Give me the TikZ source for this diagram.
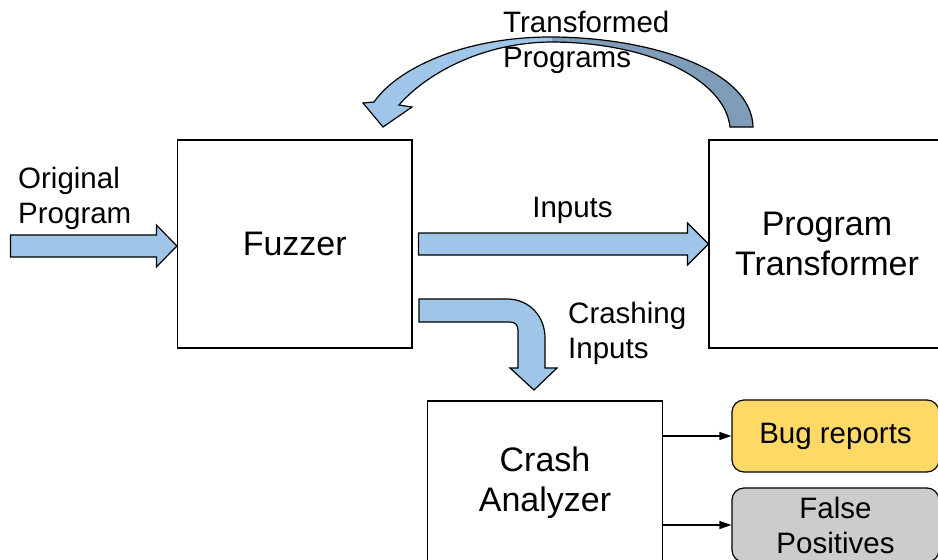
\documentclass[tikz,border=0pt]{standalone}
\usepackage{fontspec}
\setmainfont{Liberation Sans}
\usetikzlibrary{arrows.meta,calc}
\definecolor{lb}{HTML}{9FC5E8}
\definecolor{db}{HTML}{7F9DB9}
\definecolor{bugy}{HTML}{FFD966}
\definecolor{fpg}{HTML}{CCCCCC}
\begin{document}
\begin{tikzpicture}[x=1pt,y=-1pt,
  box/.style={draw,line width=1.2pt,inner sep=0pt,font=\fontsize{34}{40}\selectfont,align=center},
  outcome/.style={draw,line width=1.2pt,rounded corners=12pt,inner sep=0pt,font=\fontsize{29.5}{35}\selectfont,align=center,minimum width=207pt},
  lbl/.style={inner sep=0pt,font=\fontsize{29.5}{35}\selectfont,align=left},
  fat/.style={fill=lb,draw=black,line width=1.2pt,line join=miter},
  link/.style={line width=1.2pt,-{Triangle[length=12pt,width=8pt]}}]
\useasboundingbox (0,0) rectangle (938,560);

% boxes
\node[box,minimum width=234.5pt,minimum height=208pt] (fuzzer) at (294.75,244) {Fuzzer};
\node[box,minimum width=236pt,minimum height=208pt] (trans) at (827,244) {Program\\Transformer};
\node[box,minimum width=234.5pt,minimum height=164pt] (crash) at (545,483) {Crash\\Analyzer};
\node[outcome,fill=bugy,minimum height=72pt] (bug) at (835.5,436) {Bug reports};
\node[outcome,fill=fpg,minimum height=74pt] (fp) at (835.5,525) {False\\Positives};

% thin connectors
\draw[link] (crash.east |- bug.west) -- (bug.west);
\draw[link] (crash.east |- fp.west) -- (fp.west);

% block arrow: original program -> fuzzer
\begin{scope}[shift={(fuzzer.west)}]
\draw[fat] (-166.5,-9) -- (-20.5,-9) -- (-20.5,-19) -- (0,2) -- (-20.5,23) -- (-20.5,13) -- (-166.5,13) -- cycle;
\end{scope}

% block arrow: fuzzer -> program transformer
\begin{scope}[shift={(trans.west)}]
\draw[fat] (-290,-11) -- (-21,-11) -- (-21,-21) -- (0,0) -- (-21,21) -- (-21,11) -- (-290,11) -- cycle;
\end{scope}

% bent arrow: crashing inputs
\draw[fat] (419,299) -- (507,299) .. controls (529,299) and (545,316) .. (545,338) -- (545,368) -- (557,368) -- (534,390) -- (510,368) -- (518,368) -- (518,330) .. controls (518,325) and (515,322) .. (510,322) -- (419,322) -- cycle;

% curved arrow: transformed programs
\def\curvearrow{(753,127) .. controls (752,70) and (650,37) .. (550,37) .. controls (470,37) and (400,65) .. (374,102) -- (363,103) -- (383,127) -- (412,107) -- (399,105) .. controls (425,75) and (480,43) .. (550,42) .. controls (650,42) and (725,80) .. (730,127) -- cycle}
\fill[lb] \curvearrow;
\begin{scope}
\clip (552,0) rectangle (800,140);
\fill[db] \curvearrow;
\end{scope}
\draw[line width=1.2pt,line join=miter] \curvearrow;

% labels
\node[lbl,anchor=north west] (lorig) at (18,166.5) {Original\\Program};
\node[lbl,anchor=base] (linputs) at (572.5,217) {Inputs};
\node[lbl,anchor=north west] (lcrash) at (568,301.5) {Crashing\\Inputs};
\node[lbl,anchor=north west] (ltrans) at (503,10.5) {Transformed\\Programs};
\end{tikzpicture}
\end{document}
